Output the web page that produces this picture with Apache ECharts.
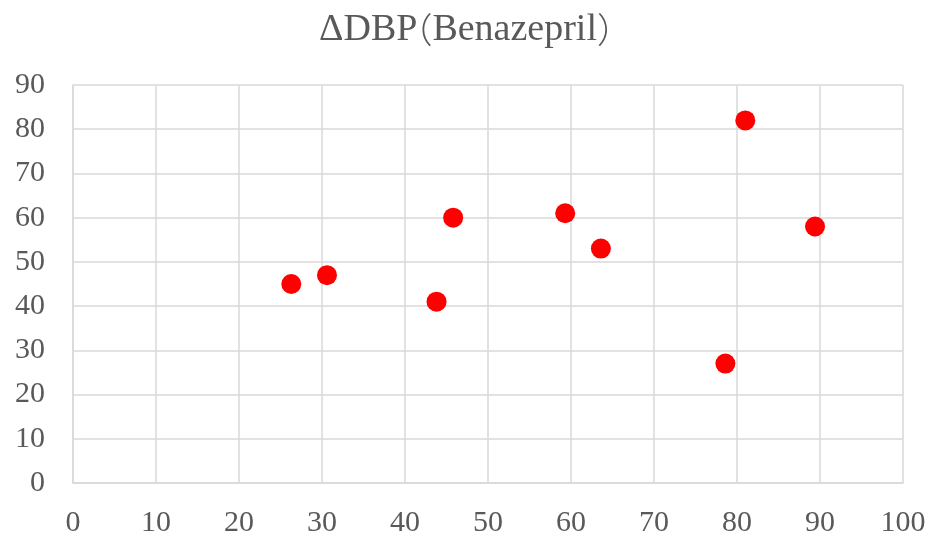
<!DOCTYPE html>
<html>
<head>
<meta charset="utf-8">
<script src="https://cdn.jsdelivr.net/npm/echarts@6/dist/echarts.min.js"></script>
<style>
  html, body { margin: 0; padding: 0; background: #fff; }
  #chart { width: 934px; height: 539px; }
</style>
</head>
<body>
<div id="chart"></div>
<script>
// ΔDBP readings for patients on benazepril
const xValues = [26.3, 30.6, 43.8, 45.8, 59.3, 63.6, 78.6, 81.0, 89.4];
const yValues = [45.0, 47.0, 41.0, 60.0, 61.0, 53.0, 27.0, 82.0, 58.0];
const titleMain = 'ΔDBP';
const titleDrug = 'Benazepril';

const points = xValues.map((x, i) => [x, yValues[i]]);

const FONT = '"Liberation Serif", "Times New Roman", serif';
const CJK = '"Noto Sans CJK JP", "Noto Sans CJK SC", sans-serif';
const TEXT = '#595959';
const GRID = '#d9d9d9';
const TITLE_SIZE = 38;

const chart = echarts.init(document.getElementById('chart'));
chart.setOption({
  animation: false,
  backgroundColor: '#fff',
  title: {
    // full-width brackets with part of their advance trimmed so they hug the text
    text: '{t|' + titleMain + '}{l|（}{t|' + titleDrug + '}{r|）}',
    left: 'center',
    top: 6,
    textStyle: {
      fontWeight: 'normal',
      rich: {
        t: { fontFamily: FONT, fontSize: TITLE_SIZE, fontWeight: 'normal', color: TEXT },
        l: { fontFamily: CJK, fontSize: 35, fontWeight: 300, color: TEXT, padding: [0, 0, 0, -20] },
        r: { fontFamily: CJK, fontSize: 35, fontWeight: 300, color: TEXT, padding: [0, -17, 0, 0] }
      }
    }
  },
  grid: { left: 73, right: 31, top: 85, bottom: 56 },
  xAxis: {
    type: 'value',
    min: 0, max: 100, interval: 10,
    axisLine: { show: true, lineStyle: { color: GRID, width: 1.5 } },
    axisTick: { show: false },
    splitLine: { show: true, lineStyle: { color: GRID, width: 1.5 } },
    axisLabel: { fontFamily: FONT, fontSize: 30, color: TEXT, margin: 25 }
  },
  yAxis: {
    type: 'value',
    min: 0, max: 90, interval: 10,
    axisLine: { show: true, lineStyle: { color: GRID, width: 1.5 } },
    axisTick: { show: false },
    splitLine: { show: true, lineStyle: { color: GRID, width: 1.5 } },
    axisLabel: { fontFamily: FONT, fontSize: 30, color: TEXT, margin: 28 }
  },
  series: [{
    type: 'scatter',
    data: points,
    symbol: 'circle',
    symbolSize: 20,
    itemStyle: { color: '#ff0000', opacity: 1 }
  }]
});
</script>
</body>
</html>
